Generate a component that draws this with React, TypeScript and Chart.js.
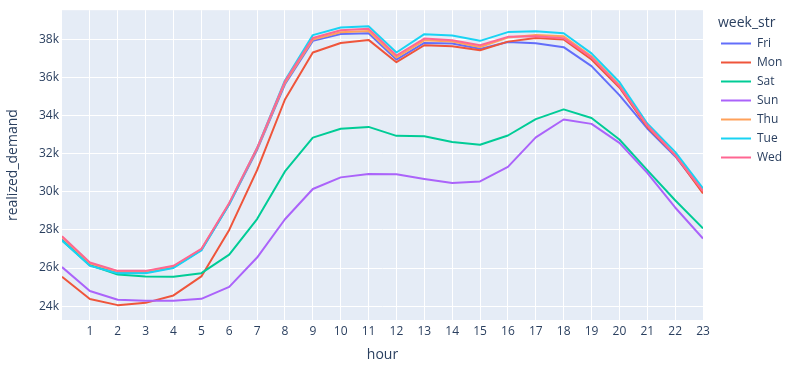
import { useEffect, useRef } from 'react';
import { Chart, registerables } from 'chart.js';

Chart.register(...registerables);

const hours = [0, 1, 2, 3, 4, 5, 6, 7, 8, 9, 10, 11, 12, 13, 14, 15, 16, 17, 18, 19, 20, 21, 22, 23];
const seriesNames = ['Fri', 'Mon', 'Sat', 'Sun', 'Thu', 'Tue', 'Wed'];
const seriesColors = ['#636efa', '#EF553B', '#00cc96', '#ab63fa', '#FFA15A', '#19d3f3', '#FF6692'];

const fri = [27500, 26150, 25750, 25770, 26030, 26950, 29350, 32200, 35650, 37930, 38290, 38330, 36950, 37820, 37790, 37510, 37870, 37810, 37600, 36600, 35080, 33330, 31870, 30000];
const mon = [25540, 24370, 24050, 24170, 24560, 25560, 28000, 31140, 34850, 37320, 37820, 37980, 36810, 37700, 37650, 37440, 37890, 38080, 38000, 36950, 35480, 33410, 31930, 29920];
const sat = [27450, 26150, 25660, 25560, 25540, 25730, 26700, 28570, 31070, 32850, 33310, 33410, 32940, 32920, 32620, 32470, 32960, 33820, 34330, 33880, 32750, 31140, 29560, 28080];
const sun = [26050, 24790, 24330, 24280, 24280, 24380, 25010, 26550, 28560, 30150, 30760, 30940, 30930, 30680, 30460, 30550, 31310, 32860, 33800, 33570, 32570, 31000, 29180, 27550];
const thu = [27620, 26250, 25820, 25820, 26080, 26980, 29380, 32250, 35720, 38000, 38380, 38450, 37060, 37960, 37890, 37610, 38100, 38240, 38170, 37120, 35620, 33480, 31950, 30050];
const tue = [27450, 26120, 25720, 25730, 26000, 26920, 29350, 32300, 35850, 38230, 38630, 38700, 37320, 38280, 38210, 37930, 38390, 38440, 38330, 37270, 35770, 33590, 32100, 30180];
const wed = [27670, 26290, 25850, 25850, 26120, 27000, 29420, 32300, 35800, 38080, 38490, 38560, 37160, 38050, 37960, 37700, 38140, 38170, 38070, 37060, 35550, 33500, 31930, 30040];

const seriesValues = [fri, mon, sat, sun, thu, tue, wed];

const yTickValues = [24000, 26000, 28000, 30000, 32000, 34000, 36000, 38000];
const xTickValues = [1, 2, 3, 4, 5, 6, 7, 8, 9, 10, 11, 12, 13, 14, 15, 16, 17, 18, 19, 20, 21, 22, 23];

const yMin = 23270;
const yMax = 39540;
const legendTitle = 'week_str';
const xTitle = 'hour';
const yTitle = 'realized_demand';

const FONT = '"Open Sans", "Noto Sans", sans-serif';
const TEXT = '#2a3f5f';

const bgPlugin = {
  id: 'plotBg',
  beforeDraw(chart: any) {
    const { ctx, chartArea } = chart;
    ctx.save();
    ctx.fillStyle = '#E5ECF6';
    ctx.fillRect(chartArea.left, chartArea.top, chartArea.right - chartArea.left, chartArea.bottom - chartArea.top);
    ctx.restore();
  },
};

const legendPlugin = {
  id: 'plotlyLegend',
  afterDraw(chart: any) {
    const ctx = chart.ctx;
    ctx.save();
    ctx.textBaseline = 'middle';
    ctx.textAlign = 'left';
    ctx.fillStyle = TEXT;
    ctx.font = `14px ${FONT}`;
    ctx.fillText(legendTitle, 718, 23);
    chart.data.datasets.forEach((ds: any, i: number) => {
      const y = 43.5 + i * 19;
      ctx.strokeStyle = ds.borderColor;
      ctx.lineWidth = 2;
      ctx.beginPath();
      ctx.moveTo(721, y);
      ctx.lineTo(751, y);
      ctx.stroke();
      ctx.fillStyle = TEXT;
      ctx.font = `12px ${FONT}`;
      ctx.fillText(ds.label, 757, y);
    });
    ctx.restore();
  },
};

export default function App() {
  const ref = useRef<HTMLCanvasElement | null>(null);

  useEffect(() => {
    document.body.style.margin = '0';
    const canvas = ref.current;
    if (!canvas) return;
    const chart = new Chart(canvas, {
      type: 'line',
      data: {
        labels: hours,
        datasets: seriesNames.map((name, i) => ({
          label: name,
          data: hours.map((h, j) => ({ x: h, y: seriesValues[i][j] })),
          borderColor: seriesColors[i],
          backgroundColor: seriesColors[i],
          borderWidth: 2,
          pointRadius: 0,
          pointHoverRadius: 0,
          tension: 0,
          fill: false,
          borderJoinStyle: 'round' as const,
          order: seriesNames.length - 1 - i,
        })),
      },
      options: {
        animation: false,
        responsive: false,
        devicePixelRatio: 1,
        layout: { padding: { left: 0, right: 85, top: 10, bottom: 0 } },
        plugins: {
          legend: { display: false },
          tooltip: { enabled: false },
        },
        scales: {
          x: {
            type: 'linear',
            min: 0,
            max: 23,
            afterBuildTicks(scale: any) {
              scale.ticks = xTickValues.map((v) => ({ value: v }));
            },
            afterFit(scale: any) {
              scale.height = 52;
            },
            border: { display: false },
            grid: { drawTicks: false, lineWidth: 1, color: '#ffffff' },
            ticks: {
              padding: 4,
              color: TEXT,
              font: { family: FONT, size: 12 },
              maxRotation: 0,
              autoSkip: false,
              callback: (v: any) => String(v),
            },
            title: {
              display: true,
              text: xTitle,
              color: TEXT,
              font: { family: FONT, size: 14 },
              padding: { top: 0, bottom: 9 },
            },
          },
          y: {
            type: 'linear',
            min: yMin,
            max: yMax,
            afterBuildTicks(scale: any) {
              scale.ticks = yTickValues.map((v) => ({ value: v }));
            },
            afterFit(scale: any) {
              scale.width = 62;
            },
            border: { display: false },
            grid: { drawTicks: false, lineWidth: 1, color: '#ffffff' },
            ticks: {
              padding: 3,
              color: TEXT,
              font: { family: FONT, size: 12 },
              callback: (v: any) => `${Math.round(Number(v) / 1000)}k`,
            },
            title: {
              display: true,
              text: yTitle,
              color: TEXT,
              font: { family: FONT, size: 14 },
              padding: { top: 5, bottom: 0 },
            },
          },
        },
      },
      plugins: [bgPlugin, legendPlugin],
    } as any);
    return () => chart.destroy();
  }, []);

  return (
    <div style={{ width: 788, height: 372, position: 'relative' }}>
      <canvas ref={ref} width={788} height={372} style={{ width: 788, height: 372, display: 'block' }} />
    </div>
  );
}
